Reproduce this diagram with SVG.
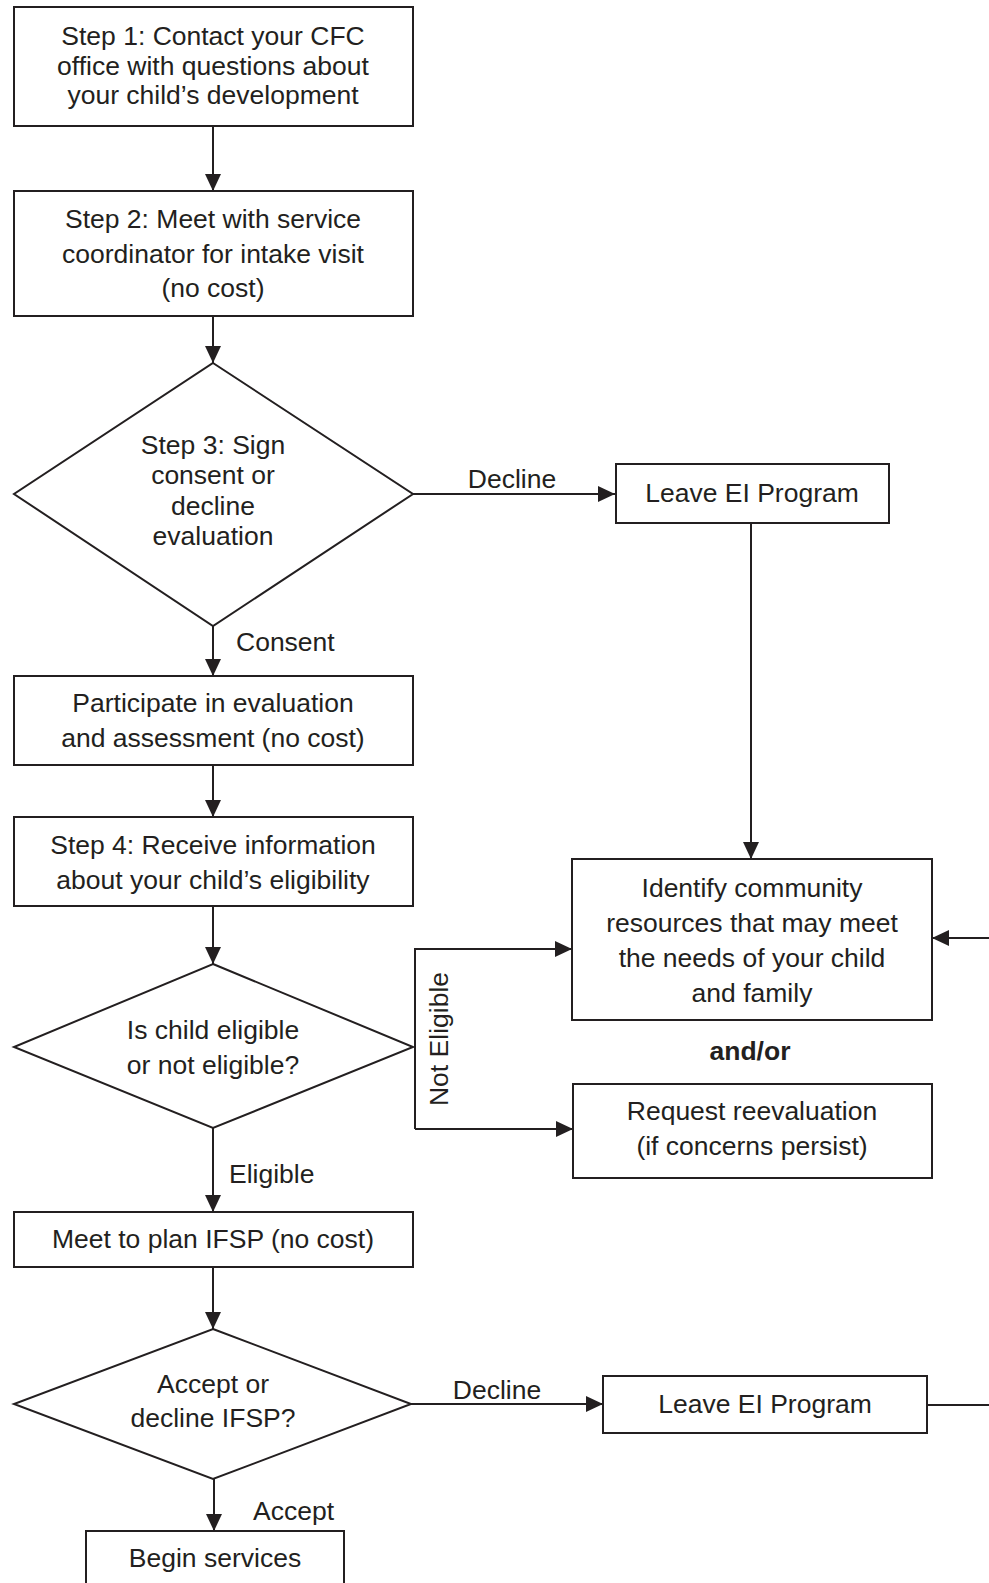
<svg xmlns="http://www.w3.org/2000/svg" width="989" height="1583" viewBox="0 0 989 1583">
<defs>
<style>
.box{fill:#fff;stroke:#231f20;stroke-width:2}
.ln{fill:none;stroke:#231f20;stroke-width:2}
text{font-family:"Liberation Sans",Arial,sans-serif;font-size:26.5px;fill:#231f20}
.c{text-anchor:middle}
.b{font-weight:bold}
</style>
<marker id="ah" markerUnits="userSpaceOnUse" markerWidth="17" markerHeight="17" refX="17" refY="8.5" orient="auto">
<path d="M0,0.5 L17,8.5 L0,16.5 z" fill="#231f20"/>
</marker>
</defs>
<rect width="989" height="1583" fill="#fff"/>
<g id="connectors">
<line class="ln" x1="213" y1="126" x2="213" y2="191" marker-end="url(#ah)"/>
<line class="ln" x1="213" y1="316" x2="213" y2="363" marker-end="url(#ah)"/>
<line class="ln" x1="413" y1="494" x2="615" y2="494" marker-end="url(#ah)"/>
<text class="c" x="512" y="488">Decline</text>
<line class="ln" x1="213" y1="626" x2="213" y2="676" marker-end="url(#ah)"/>
<text x="236" y="651">Consent</text>
<line class="ln" x1="751" y1="523" x2="751" y2="859" marker-end="url(#ah)"/>
<line class="ln" x1="213" y1="765" x2="213" y2="817" marker-end="url(#ah)"/>
<line class="ln" x1="213" y1="906" x2="213" y2="964" marker-end="url(#ah)"/>
<path class="ln" d="M415 1129 V949 H572" marker-end="url(#ah)"/>
<line class="ln" x1="415" y1="1129" x2="573" y2="1129" marker-end="url(#ah)"/>
<text class="c" transform="translate(448 1039) rotate(-90)">Not Eligible</text>
<line class="ln" x1="989" y1="938" x2="932" y2="938" marker-end="url(#ah)"/>
<line class="ln" x1="213" y1="1128" x2="213" y2="1212" marker-end="url(#ah)"/>
<text x="229" y="1183">Eligible</text>
<line class="ln" x1="213" y1="1267" x2="213" y2="1329" marker-end="url(#ah)"/>
<line class="ln" x1="411" y1="1404" x2="603" y2="1404" marker-end="url(#ah)"/>
<text class="c" x="497" y="1399">Decline</text>
<line class="ln" x1="927" y1="1405" x2="989" y2="1405"/>
<line class="ln" x1="214" y1="1479" x2="214" y2="1531" marker-end="url(#ah)"/>
<text x="253" y="1520">Accept</text>
</g>
<g id="step1">
<rect class="box" x="14" y="7" width="399" height="119"/>
<text class="c" x="213" y="45">Step 1: Contact your CFC</text>
<text class="c" x="213" y="75">office with questions about</text>
<text class="c" x="213" y="104">your child’s development</text>
</g>
<g id="step2">
<rect class="box" x="14" y="191" width="399" height="125"/>
<text class="c" x="213" y="228">Step 2: Meet with service</text>
<text class="c" x="213" y="263">coordinator for intake visit</text>
<text class="c" x="213" y="297">(no cost)</text>
</g>
<g id="step3">
<polygon class="box" points="213,363 413,494 213,626 14,494"/>
<text class="c" x="213" y="454">Step 3: Sign</text>
<text class="c" x="213" y="484">consent or</text>
<text class="c" x="213" y="515">decline</text>
<text class="c" x="213" y="545">evaluation</text>
</g>
<g id="leave1">
<rect class="box" x="616" y="464" width="273" height="59"/>
<text class="c" x="752" y="502">Leave EI Program</text>
</g>
<g id="evaluation">
<rect class="box" x="14" y="676" width="399" height="89"/>
<text class="c" x="213" y="712">Participate in evaluation</text>
<text class="c" x="213" y="747">and assessment (no cost)</text>
</g>
<g id="step4">
<rect class="box" x="14" y="817" width="399" height="89"/>
<text class="c" x="213" y="854">Step 4: Receive information</text>
<text class="c" x="213" y="889">about your child’s eligibility</text>
</g>
<g id="eligible">
<polygon class="box" points="213,964 413,1047 213,1128 14,1047"/>
<text class="c" x="213" y="1039">Is child eligible</text>
<text class="c" x="213" y="1074">or not eligible?</text>
</g>
<g id="identify">
<rect class="box" x="572" y="859" width="360" height="161"/>
<text class="c" x="752" y="897">Identify community</text>
<text class="c" x="752" y="932">resources that may meet</text>
<text class="c" x="752" y="967">the needs of your child</text>
<text class="c" x="752" y="1002">and family</text>
</g>
<g id="andor">
<text class="c b" x="750" y="1060">and/or</text>
</g>
<g id="reevaluation">
<rect class="box" x="573" y="1084" width="359" height="94"/>
<text class="c" x="752" y="1120">Request reevaluation</text>
<text class="c" x="752" y="1155">(if concerns persist)</text>
</g>
<g id="ifsp">
<rect class="box" x="14" y="1212" width="399" height="55"/>
<text class="c" x="213" y="1248">Meet to plan IFSP (no cost)</text>
</g>
<g id="accept">
<polygon class="box" points="213,1329 411,1404 213,1479 14,1404"/>
<text class="c" x="213" y="1393">Accept or</text>
<text class="c" x="213" y="1427">decline IFSP?</text>
</g>
<g id="leave2">
<rect class="box" x="603" y="1376" width="324" height="57"/>
<text class="c" x="765" y="1413">Leave EI Program</text>
</g>
<g id="begin">
<rect class="box" x="86" y="1531" width="258" height="70"/>
<text class="c" x="215" y="1567">Begin services</text>
</g>
</svg>
